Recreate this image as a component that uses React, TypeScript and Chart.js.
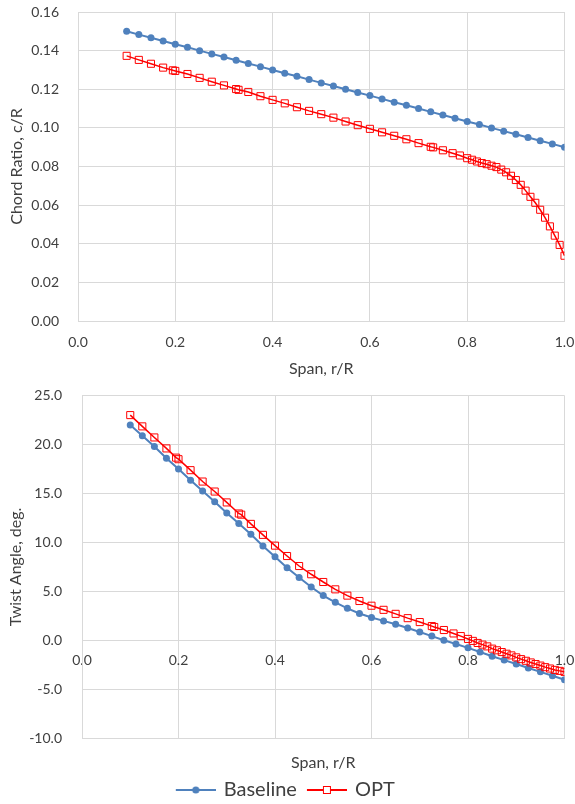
import React, { useEffect, useRef } from "react";
import { Chart, registerables } from "chart.js";

Chart.register(...registerables);

// ---- data ----
const baselineSpan = [
  0.1, 0.125, 0.15, 0.175, 0.2, 0.225, 0.25, 0.275, 0.3, 0.325, 0.35, 0.375,
  0.4, 0.425, 0.45, 0.475, 0.5, 0.525, 0.55, 0.575, 0.6, 0.625, 0.65, 0.675,
  0.7, 0.725, 0.75, 0.775, 0.8, 0.825, 0.85, 0.875, 0.9, 0.925, 0.95, 0.975, 1.0,
];
const baselineChord = [
  0.15, 0.1483, 0.1467, 0.145, 0.1433, 0.1417, 0.14, 0.1383, 0.1367, 0.135,
  0.1333, 0.1317, 0.13, 0.1283, 0.1267, 0.125, 0.1233, 0.1217, 0.12, 0.1183,
  0.1167, 0.115, 0.1133, 0.1117, 0.11, 0.1083, 0.1067, 0.105, 0.1033, 0.1017,
  0.1, 0.0983, 0.0967, 0.095, 0.0933, 0.0917, 0.09,
];
const baselineTwist = [
  22.0, 20.9, 19.8, 18.6, 17.5, 16.35, 15.25, 14.15, 13.0, 11.95, 10.85, 9.65,
  8.55, 7.42, 6.42, 5.46, 4.58, 3.9, 3.28, 2.76, 2.35, 2.0, 1.65, 1.27, 0.86,
  0.45, 0.02, -0.35, -0.75, -1.18, -1.6, -2.0, -2.4, -2.8, -3.2, -3.6, -4.0,
];
const optSpan = [
  0.1, 0.125, 0.15, 0.175, 0.195, 0.2, 0.225, 0.25, 0.275, 0.3, 0.325, 0.33,
  0.35, 0.375, 0.4, 0.425, 0.45, 0.475, 0.5, 0.525, 0.55, 0.575, 0.6, 0.625,
  0.65, 0.675, 0.7, 0.725, 0.73, 0.75, 0.77, 0.785, 0.8, 0.81, 0.82, 0.83,
  0.84, 0.85, 0.86, 0.87, 0.88, 0.89, 0.9, 0.91, 0.92, 0.93, 0.94, 0.95, 0.96,
  0.97, 0.98, 0.99, 1.0,
];
const optChord = [
  0.1373, 0.1352, 0.1332, 0.1312, 0.1298, 0.1295, 0.1279, 0.1259, 0.1239,
  0.122, 0.1201, 0.1197, 0.1186, 0.1164, 0.1145, 0.1127, 0.1107, 0.1088,
  0.1071, 0.1053, 0.1033, 0.1014, 0.0995, 0.0977, 0.0959, 0.0941, 0.0921,
  0.0902, 0.0899, 0.0884, 0.0869, 0.0857, 0.0843, 0.0835, 0.0826, 0.0818,
  0.0812, 0.0804, 0.0797, 0.0784, 0.077, 0.0752, 0.073, 0.0705, 0.0675,
  0.0643, 0.0612, 0.0576, 0.0535, 0.049, 0.0442, 0.0394, 0.0338,
];
const optTwist = [
  23.0, 21.85, 20.72, 19.6, 18.66, 18.5, 17.38, 16.22, 15.2, 14.09, 12.96,
  12.84, 11.9, 10.78, 9.68, 8.62, 7.6, 6.76, 5.97, 5.22, 4.58, 4.03, 3.55,
  3.13, 2.72, 2.28, 1.88, 1.47, 1.38, 1.07, 0.72, 0.45, 0.16, -0.04, -0.25,
  -0.42, -0.6, -0.83, -1.0, -1.18, -1.35, -1.52, -1.72, -1.9, -2.07, -2.24,
  -2.4, -2.56, -2.72, -2.86, -3.0, -3.1, -3.2,
];
const spanTicks = [0, 0.2, 0.4, 0.6, 0.8, 1.0];
const chordTicks = [0, 0.02, 0.04, 0.06, 0.08, 0.1, 0.12, 0.14, 0.16];
const twistTicks = [-10, -5, 0, 5, 10, 15, 20, 25];
const seriesNames = ["Baseline", "OPT"];

// ---- styles ----
const FONT = "Lato, 'Open Sans', 'DejaVu Sans', sans-serif";
const TEXT = "#404040";
const GRID = "#d9d9d9";
const BLUE = "#4f81bd";
const RED = "#ff0000";

function pts(xs: number[], ys: number[]) {
  return xs.map((x, i) => ({ x, y: ys[i] }));
}

function setTicks(values: number[]) {
  return (scale: any) => {
    scale.ticks = values.map((v) => ({ value: v }));
  };
}

function fixSize(dim: "width" | "height", size: number) {
  return (s: any) => {
    s[dim] = size;
    s.paddingLeft = 0;
    s.paddingRight = 0;
    s.paddingTop = 0;
    s.paddingBottom = 0;
  };
}

function noPad(s: any) {
  s.paddingLeft = 0;
  s.paddingRight = 0;
  s.paddingTop = 0;
  s.paddingBottom = 0;
}

function makeLegendImage(kind: "circle" | "square") {
  const c = document.createElement("canvas");
  c.width = 48;
  c.height = 14;
  const ctx = c.getContext("2d")!;
  const color = kind === "circle" ? BLUE : RED;
  ctx.strokeStyle = color;
  ctx.lineWidth = 2;
  ctx.beginPath();
  ctx.moveTo(8, 7);
  ctx.lineTo(48, 7);
  ctx.stroke();
  if (kind === "circle") {
    ctx.fillStyle = BLUE;
    ctx.beginPath();
    ctx.arc(28, 7, 3.6, 0, Math.PI * 2);
    ctx.fill();
  } else {
    ctx.fillStyle = "#ffffff";
    ctx.fillRect(24.5, 3.5, 7, 7);
    ctx.lineWidth = 1;
    ctx.strokeRect(24.5, 3.5, 7, 7);
  }
  return c;
}

function datasets(baseY: number[], optY: number[]) {
  return [
    {
      label: seriesNames[0],
      data: pts(baselineSpan, baseY),
      showLine: true,
      borderColor: BLUE,
      backgroundColor: BLUE,
      borderWidth: 2,
      pointStyle: "circle",
      pointRadius: 3.5,
      pointBorderWidth: 0,
      pointBackgroundColor: BLUE,
      order: 1,
    },
    {
      label: seriesNames[1],
      data: pts(optSpan, optY),
      showLine: true,
      borderColor: RED,
      backgroundColor: "rgba(255,255,255,0)",
      borderWidth: 1.5,
      pointStyle: "rect",
      pointRadius: 5,
      pointBorderWidth: 1,
      pointBorderColor: RED,
      pointBackgroundColor: "rgba(255,255,255,0)",
      order: 0,
    },
  ];
}

export default function App() {
  const topRef = useRef<HTMLCanvasElement>(null);
  const botRef = useRef<HTMLCanvasElement>(null);

  useEffect(() => {
    const tickFont = { family: FONT, size: 14 };
    const titleFont = { family: FONT, size: 16 };

    const top = new Chart(topRef.current!, {
      type: "scatter",
      data: { datasets: datasets(baselineChord, optChord) as any },
      options: {
        animation: false,
        responsive: false,
        layout: { padding: { left: 0, right: 10.5, top: 12, bottom: 0 } },
        plugins: { legend: { display: false }, tooltip: { enabled: false } },
        scales: {
          x: {
            type: "linear",
            min: 0,
            max: 1,
            afterBuildTicks: setTicks(spanTicks),
            afterFit: fixSize("height", 61),
            grid: { color: GRID, drawTicks: false },
            border: { color: GRID },
            ticks: {
              padding: 13,
              font: tickFont,
              color: TEXT,
              callback: (v: any) => Number(v).toFixed(1),
            },
            title: {
              display: true,
              text: "Span, r/R",
              font: titleFont,
              color: TEXT,
              padding: { top: 0, bottom: 4 },
            },
          },
          y: {
            type: "linear",
            min: 0,
            max: 0.16,
            afterBuildTicks: setTicks(chordTicks),
            afterFit: fixSize("width", 78),
            grid: { color: GRID, drawTicks: false },
            border: { color: GRID },
            ticks: {
              padding: 19,
              font: tickFont,
              color: TEXT,
              callback: (v: any) => Number(v).toFixed(2),
            },
            title: {
              display: true,
              text: "Chord Ratio, c/R",
              font: titleFont,
              color: TEXT,
              padding: { top: 7, bottom: 0 },
            },
          },
        },
      } as any,
    });

    const imgs = [makeLegendImage("circle"), makeLegendImage("square")];

    const bot = new Chart(botRef.current!, {
      type: "scatter",
      data: { datasets: datasets(baselineTwist, optTwist) as any },
      options: {
        animation: false,
        responsive: false,
        layout: { padding: { left: 0, right: 10.5, top: 13.5, bottom: 0 } },
        plugins: {
          tooltip: { enabled: false },
          legend: {
            display: true,
            position: "bottom",
            labels: {
              usePointStyle: true,
              pointStyleWidth: 44,
              padding: 4,
              font: { family: FONT, size: 20 },
              color: TEXT,
              generateLabels: (chart: any) =>
                chart.data.datasets.map((ds: any, i: number) => ({
                  text: ds.label,
                  pointStyle: imgs[i],
                  fillStyle: ds.borderColor,
                  strokeStyle: ds.borderColor,
                  lineWidth: 0,
                  hidden: false,
                  datasetIndex: i,
                  fontColor: TEXT,
                })),
            },
          },
        },
        scales: {
          x: {
            type: "linear",
            min: 0,
            max: 1,
            afterBuildTicks: setTicks(spanTicks),
            afterFit: fixSize("height", 37.5),
            grid: { color: GRID, drawTicks: false },
            border: { color: GRID },
            ticks: { display: false },
            title: {
              display: true,
              text: "Span, r/R",
              font: titleFont,
              color: TEXT,
              padding: { top: 0, bottom: 3.4 },
            },
          },
          x2: {
            type: "linear",
            position: { y: 0 },
            min: 0,
            max: 1,
            afterBuildTicks: setTicks(spanTicks),
            afterFit: noPad,
            grid: { display: false, drawTicks: false },
            border: { display: false },
            ticks: {
              padding: 12,
              font: tickFont,
              color: TEXT,
              callback: (v: any) => Number(v).toFixed(1),
            },
          },
          y: {
            type: "linear",
            min: -10,
            max: 25,
            afterBuildTicks: setTicks(twistTicks),
            afterFit: fixSize("width", 82),
            grid: { color: GRID, drawTicks: false },
            border: { color: GRID },
            ticks: {
              padding: 20,
              font: tickFont,
              color: TEXT,
              callback: (v: any) => Number(v).toFixed(1),
            },
            title: {
              display: true,
              text: "Twist Angle, deg.",
              font: titleFont,
              color: TEXT,
              padding: { top: 6.5, bottom: 0 },
            },
          },
        },
      } as any,
    });

    return () => {
      top.destroy();
      bot.destroy();
    };
  }, []);

  return (
    <div
      style={{
        position: "fixed",
        left: 0,
        top: 0,
        width: 575,
        height: 804,
        overflow: "hidden",
        background: "#ffffff",
      }}
    >
      <canvas
        ref={topRef}
        width={575}
        height={382}
        style={{ position: "absolute", left: 0, top: 0, width: 575, height: 382 }}
      />
      <canvas
        ref={botRef}
        width={575}
        height={428}
        style={{ position: "absolute", left: 0, top: 382, width: 575, height: 428 }}
      />
    </div>
  );
}
